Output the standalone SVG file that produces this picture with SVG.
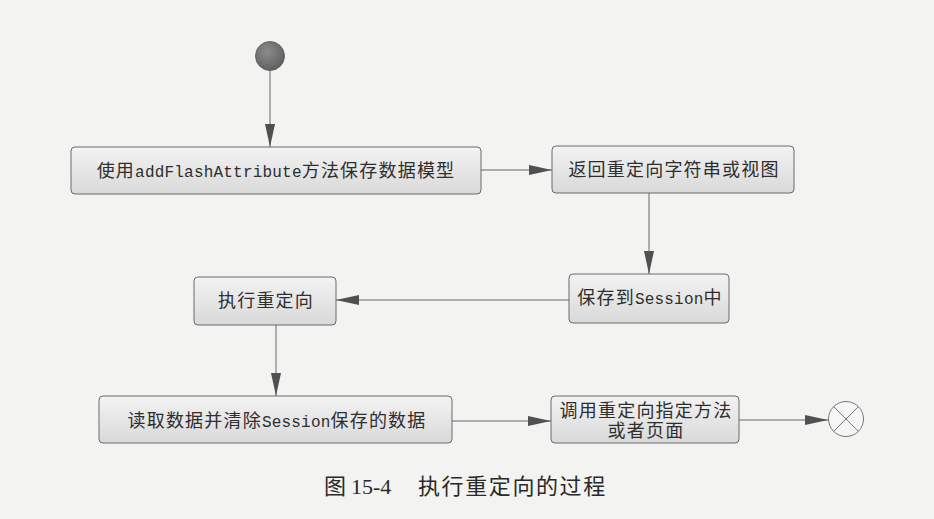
<svg xmlns="http://www.w3.org/2000/svg" width="934" height="519" viewBox="0 0 934 519">
  <style>
    .box { stroke: #6a6a6a; stroke-width: 1; fill: url(#boxFill); }
    .lbl { font-family: "Liberation Mono", "Noto Sans CJK SC", monospace; font-size: 16px; fill: #2e2e2e; text-anchor: middle; }
    .cj { font-size: 18px; letter-spacing: 1.2px; }
    .la { font-size: 16px; letter-spacing: 0.2px; }
    .edge { stroke: #666; stroke-width: 1; fill: none; marker-end: url(#arrow); }
    .cap { font-family: "Liberation Serif", "Noto Sans CJK SC", serif; font-size: 22px; fill: #2a2a2a; }
  </style>
  <defs>
    <linearGradient id="boxFill" x1="0" y1="0" x2="0" y2="1">
      <stop offset="0" stop-color="#f3f3f3"/>
      <stop offset="1" stop-color="#d9d9d9"/>
    </linearGradient>
    <radialGradient id="startFill" cx="0.4" cy="0.35" r="0.7">
      <stop offset="0" stop-color="#8c8c8c"/>
      <stop offset="1" stop-color="#5e5e5e"/>
    </radialGradient>
    <marker id="arrow" markerUnits="userSpaceOnUse" markerWidth="24" markerHeight="12" refX="23" refY="5" orient="auto">
      <path d="M0,0 L23,5 L0,10 Z" fill="#505050"/>
    </marker>
  </defs>

  <rect width="934" height="519" fill="#f3f3f1"/>

  <g id="connectors">
    <path class="edge" d="M270,70 V147"/>
    <path class="edge" d="M481,170 H552"/>
    <path class="edge" d="M649,193 V274"/>
    <path class="edge" d="M569,300 H336"/>
    <path class="edge" d="M276,325 V396"/>
    <path class="edge" d="M452,421 H551"/>
    <path class="edge" d="M739,420 H828"/>
  </g>

  <g id="start">
    <circle cx="270" cy="56" r="14.5" fill="url(#startFill)" stroke="#555" stroke-width="0.8"/>
  </g>

  <g id="saveFlash">
    <rect class="box" x="71" y="147" width="410" height="47" rx="4"/>
    <text class="lbl" x="276" y="177"><tspan class="cj">使用</tspan><tspan class="la">addFlashAttribute</tspan><tspan class="cj">方法保存数据模型</tspan></text>
  </g>

  <g id="returnView">
    <rect class="box" x="552" y="146" width="242" height="47" rx="4"/>
    <text class="lbl cj" x="674" y="176">返回重定向字符串或视图</text>
  </g>

  <g id="saveSession">
    <rect class="box" x="569" y="274" width="160" height="49" rx="4"/>
    <text class="lbl" x="650" y="304"><tspan class="cj">保存到</tspan><tspan class="la">Session</tspan><tspan class="cj">中</tspan></text>
  </g>

  <g id="redirect">
    <rect class="box" x="194" y="277" width="142" height="48" rx="4"/>
    <text class="lbl cj" x="266" y="307">执行重定向</text>
  </g>

  <g id="readClear">
    <rect class="box" x="99" y="396" width="353" height="47" rx="4"/>
    <text class="lbl" x="277" y="427"><tspan class="cj">读取数据并清除</tspan><tspan class="la">Session</tspan><tspan class="cj">保存的数据</tspan></text>
  </g>

  <g id="callTarget">
    <rect class="box" x="551" y="396" width="188" height="47" rx="4"/>
    <text class="lbl cj" x="646" y="417">调用重定向指定方法</text>
    <text class="lbl cj" x="646" y="437">或者页面</text>
  </g>

  <g id="end">
    <circle cx="846" cy="419" r="17.5" fill="#f6f6f6" stroke="#777" stroke-width="1"/>
    <path d="M833.6,406.6 L858.4,431.4 M858.4,406.6 L833.6,431.4" stroke="#777" stroke-width="1"/>
  </g>

  <text class="cap" y="494"><tspan x="324">图</tspan><tspan x="351">15-4</tspan><tspan x="418" letter-spacing="1.6">执行重定向的过程</tspan></text>
</svg>
